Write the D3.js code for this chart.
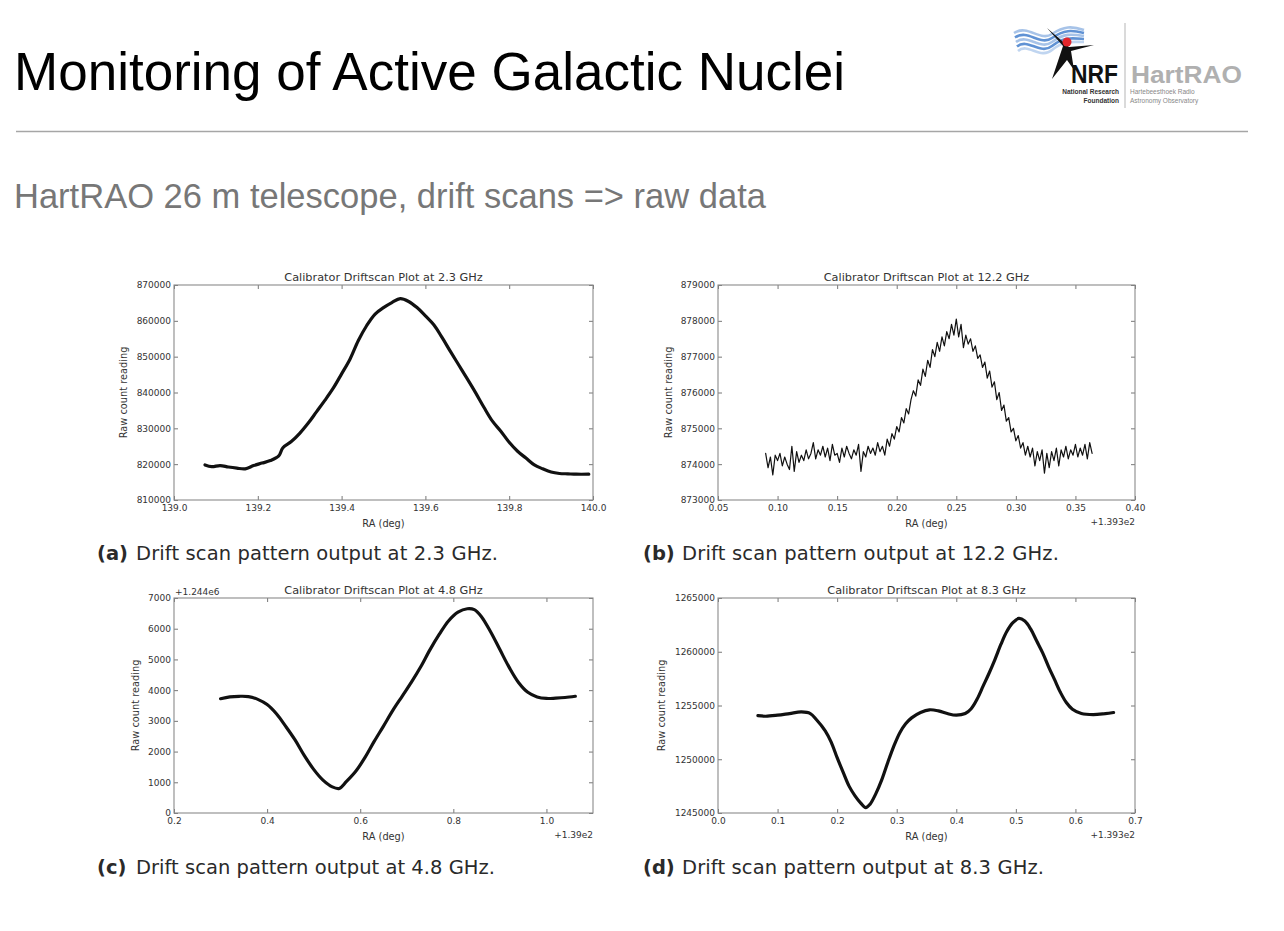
<!DOCTYPE html>
<html><head><meta charset="utf-8">
<script src="https://cdn.jsdelivr.net/npm/d3@7"></script>
<style>body{margin:0;background:#fff}svg{display:block}</style>
</head><body>
<svg id="c" width="1284" height="931"></svg>
<script>
// ---------- DATA ----------
const scan23 = [[139.074,819800],[139.09,819300],[139.11,819600],[139.13,819200],[139.15,818900],[139.17,818700],[139.19,819600],[139.21,820300],[139.23,821000],[139.25,822300],[139.26,824600],[139.28,826300],[139.30,828600],[139.32,831400],[139.34,834600],[139.36,837800],[139.38,841200],[139.40,845200],[139.42,849300],[139.44,854500],[139.46,858700],[139.48,861900],[139.50,863700],[139.52,865100],[139.54,866200],[139.56,865400],[139.58,863700],[139.60,861400],[139.62,858900],[139.64,855300],[139.66,851400],[139.68,847600],[139.70,843800],[139.72,839900],[139.74,835800],[139.76,832000],[139.78,829200],[139.80,826100],[139.82,823600],[139.84,821700],[139.86,819800],[139.88,818700],[139.90,817800],[139.92,817400],[139.94,817300],[139.96,817200],[139.99,817200]];
const scan122 = [[0.090,874300],[0.092,873900],[0.094,874200],[0.096,873700],[0.098,874250],[0.100,874100],[0.102,874300],[0.104,873950],[0.106,874200],[0.108,874000],[0.110,873850],[0.112,874500],[0.114,873800],[0.116,874350],[0.118,874050],[0.120,874250],[0.122,874100],[0.124,874400],[0.126,874150],[0.128,874300],[0.130,874600],[0.132,874150],[0.134,874400],[0.136,874250],[0.138,874500],[0.140,874200],[0.142,874450],[0.144,874100],[0.146,874550],[0.148,874250],[0.150,874300],[0.152,874050],[0.154,874450],[0.156,874200],[0.158,874500],[0.160,874300],[0.162,874150],[0.164,874400],[0.166,874250],[0.168,874550],[0.170,873800],[0.172,874350],[0.174,874200],[0.176,874500],[0.178,874300],[0.180,874450],[0.182,874250],[0.184,874600],[0.186,874350],[0.188,874500],[0.190,874250],[0.192,874700],[0.194,874500],[0.196,874850],[0.198,874700],[0.200,875050],[0.202,874900],[0.204,875300],[0.206,875150],[0.208,875550],[0.210,875400],[0.212,875800],[0.214,876050],[0.216,875900],[0.218,876350],[0.220,876200],[0.222,876650],[0.224,876450],[0.226,876900],[0.228,876700],[0.230,877200],[0.232,877000],[0.234,877400],[0.236,877150],[0.238,877550],[0.240,877300],[0.242,877700],[0.244,877500],[0.246,877900],[0.248,877600],[0.250,878050],[0.252,877550],[0.254,877900],[0.256,877250],[0.258,877600],[0.260,877350],[0.262,877500],[0.264,877150],[0.266,877300],[0.268,876950],[0.270,877050],[0.272,876700],[0.274,876850],[0.276,876400],[0.278,876600],[0.280,876150],[0.282,876300],[0.284,875800],[0.286,876000],[0.288,875500],[0.290,875650],[0.292,875200],[0.294,875300],[0.296,874900],[0.298,875000],[0.300,874650],[0.302,874800],[0.304,874450],[0.306,874600],[0.308,874250],[0.310,874500],[0.312,874200],[0.314,874450],[0.316,873950],[0.318,874350],[0.320,874100],[0.322,874400],[0.324,873750],[0.326,874300],[0.328,873900],[0.330,874350],[0.332,874100],[0.334,874450],[0.336,873950],[0.338,874400],[0.340,874200],[0.342,874500],[0.344,874150],[0.346,874400],[0.348,874250],[0.350,874550],[0.352,874200],[0.354,874450],[0.356,874250],[0.358,874550],[0.360,874150],[0.362,874600],[0.364,874300]];
const scan48 = [[0.300,3720],[0.32,3780],[0.34,3800],[0.36,3790],[0.38,3700],[0.40,3530],[0.42,3230],[0.44,2820],[0.46,2380],[0.48,1870],[0.50,1420],[0.52,1070],[0.54,850],[0.555,800],[0.57,1020],[0.59,1350],[0.61,1800],[0.63,2330],[0.65,2830],[0.67,3340],[0.69,3800],[0.71,4260],[0.73,4760],[0.75,5320],[0.77,5820],[0.79,6260],[0.81,6540],[0.83,6650],[0.845,6620],[0.86,6400],[0.88,5900],[0.90,5320],[0.92,4740],[0.94,4250],[0.96,3930],[0.98,3780],[1.00,3730],[1.02,3740],[1.04,3760],[1.062,3800]];
const scan83 = [[0.067,1254050],[0.08,1254000],[0.10,1254100],[0.12,1254250],[0.14,1254400],[0.155,1254250],[0.165,1253700],[0.18,1252650],[0.19,1251600],[0.20,1250150],[0.21,1248800],[0.22,1247500],[0.23,1246600],[0.24,1245900],[0.248,1245500],[0.255,1245800],[0.265,1246800],[0.275,1248100],[0.285,1249700],[0.295,1251200],[0.305,1252450],[0.315,1253300],[0.325,1253850],[0.34,1254350],[0.355,1254600],[0.37,1254500],[0.385,1254250],[0.40,1254100],[0.415,1254250],[0.425,1254700],[0.435,1255600],[0.445,1256800],[0.455,1258000],[0.465,1259300],[0.475,1260700],[0.485,1261900],[0.495,1262700],[0.505,1263100],[0.515,1262850],[0.525,1262100],[0.535,1261000],[0.545,1259900],[0.555,1258600],[0.565,1257400],[0.575,1256200],[0.585,1255250],[0.595,1254650],[0.61,1254250],[0.63,1254150],[0.65,1254250],[0.664,1254350]];

const xTicks23 = [139.0,139.2,139.4,139.6,139.8,140.0];
const yTicks23 = [810000,820000,830000,840000,850000,860000,870000];
const xTicks122 = [0.05,0.10,0.15,0.20,0.25,0.30,0.35,0.40];
const yTicks122 = [873000,874000,875000,876000,877000,878000,879000];
const xTicks48 = [0.2,0.4,0.6,0.8,1.0];
const yTicks48 = [0,1000,2000,3000,4000,5000,6000,7000];
const xTicks83 = [0.0,0.1,0.2,0.3,0.4,0.5,0.6,0.7];
const yTicks83 = [1245000,1250000,1255000,1260000,1265000];

const titles = ["Calibrator Driftscan Plot at 2.3 GHz","Calibrator Driftscan Plot at 12.2 GHz","Calibrator Driftscan Plot at 4.8 GHz","Calibrator Driftscan Plot at 8.3 GHz"];
const captionTags = ["(a)","(b)","(c)","(d)"];
const captionTexts = ["Drift scan pattern output at 2.3 GHz.","Drift scan pattern output at 12.2 GHz.","Drift scan pattern output at 4.8 GHz.","Drift scan pattern output at 8.3 GHz."];

// ---------- DRAWING ----------
const svg = d3.select("#c");
svg.append("rect").attr("width",1284).attr("height",931).attr("fill","#fff");

// Header
svg.append("text").attr("x",14).attr("y",90).text("Monitoring of Active Galactic Nuclei")
  .attr("font-family","Liberation Sans, Arial, sans-serif").attr("font-size",53).attr("fill","#000")
  .attr("textLength",831).attr("lengthAdjust","spacingAndGlyphs");
svg.append("line").attr("x1",16).attr("x2",1248).attr("y1",131.5).attr("y2",131.5)
  .attr("stroke","#a6a6a6").attr("stroke-width",1.5);
svg.append("text").attr("x",14).attr("y",208).text("HartRAO 26 m telescope, drift scans => raw data")
  .attr("font-family","Liberation Sans, Arial, sans-serif").attr("font-size",34.5).attr("fill","#777")
  .attr("textLength",752).attr("lengthAdjust","spacingAndGlyphs");

// Logo
const logo = svg.append("g");
const blues = ["#9dbde6","#4f86cf","#9dbde6","#4f86cf","#b9d0ee"];
blues.forEach((c,i)=>{
  logo.append("path").attr("d",`M${1014+i*1},${33+i*4.5} C1028,${24+i*4.5} 1040,${42+i*4.5} 1052,${34+i*4} S1072,${26+i*4} 1084,${30+i*3}`)
    .attr("fill","none").attr("stroke",c).attr("stroke-width",2.6).attr("opacity",0.9);
});
logo.append("path").attr("d","M1047,28 L1063,46 L1052,79 L1067,60 L1074,70 L1071,51 L1094,45 L1069,47 Z").attr("fill","#111");
logo.append("circle").attr("cx",1067).attr("cy",42).attr("r",4.5).attr("fill","#e3262b");
logo.append("text").attr("x",1071).attr("y",83).text("NRF").attr("font-family","Liberation Sans, Arial, sans-serif")
  .attr("font-weight","bold").attr("font-size",25).attr("fill","#111").attr("textLength",47).attr("lengthAdjust","spacingAndGlyphs");
logo.append("line").attr("x1",1125).attr("x2",1125).attr("y1",23).attr("y2",108).attr("stroke","#b5b5b5").attr("stroke-width",1);
logo.append("text").attr("x",1131).attr("y",83).text("HartRAO").attr("font-family","Liberation Sans, Arial, sans-serif")
  .attr("font-weight","bold").attr("font-size",24).attr("fill","#b0b0b0").attr("textLength",111).attr("lengthAdjust","spacingAndGlyphs");
[["National Research",94],["Foundation",103]].forEach(([t,y])=>logo.append("text").attr("x",1119).attr("y",y).attr("text-anchor","end")
  .text(t).attr("font-family","Liberation Sans, Arial, sans-serif").attr("font-weight","bold").attr("font-size",6.5).attr("fill","#333"));
[["Hartebeesthoek Radio",94],["Astronomy Observatory",103]].forEach(([t,y])=>logo.append("text").attr("x",1130).attr("y",y)
  .text(t).attr("font-family","Liberation Sans, Arial, sans-serif").attr("font-size",6.5).attr("fill","#888"));

// Panels
const panels = [
  {left:174, top:285, w:419, h:215, data:scan23, xDom:[139.0,140.0], yDom:[810000,870000], xTicks:xTicks23, yTicks:yTicks23,
   xFmt:d3.format(".1f"), yFmt:d3.format("d"), title:titles[0], ylx:-47, sw:3.2, smooth:true, offX:null, offY:null,
   capY:560, capX:97, capLen:362},
  {left:718, top:285, w:417, h:215, data:scan122, xDom:[0.05,0.40], yDom:[873000,879000], xTicks:xTicks122, yTicks:yTicks122,
   xFmt:d3.format(".2f"), yFmt:d3.format("d"), title:titles[1], ylx:-46, sw:1.2, smooth:false, offX:"+1.393e2", offY:null,
   capY:560, capX:643, capLen:377},
  {left:174, top:598, w:419, h:215, data:scan48, xDom:[0.2,1.1], yDom:[0,7000], xTicks:xTicks48, yTicks:yTicks48,
   xFmt:d3.format(".1f"), yFmt:d3.format("d"), title:titles[2], ylx:-35, sw:3.2, smooth:true, offX:"+1.39e2", offY:"+1.244e6",
   capY:874, capX:97, capLen:359},
  {left:718, top:598, w:417, h:215, data:scan83, xDom:[0.0,0.7], yDom:[1245000,1265000], xTicks:xTicks83, yTicks:yTicks83,
   xFmt:d3.format(".1f"), yFmt:d3.format("d"), title:titles[3], ylx:-53, sw:3.2, smooth:true, offX:"+1.393e2", offY:null,
   capY:874, capX:643, capLen:362}
];

const tickFont = "DejaVu Sans, Verdana, sans-serif";
panels.forEach((p,i)=>{
  const g = svg.append("g").attr("transform",`translate(${p.left},${p.top})`);
  const x = d3.scaleLinear().domain(p.xDom).range([0,p.w]);
  const y = d3.scaleLinear().domain(p.yDom).range([p.h,0]);

  const line = d3.line().x(d=>x(d[0])).y(d=>y(d[1]));
  if (p.smooth) line.curve(d3.curveCatmullRom.alpha(0.5));
  g.append("path").datum(p.data).attr("d",line)
    .attr("fill","none").attr("stroke","#111").attr("stroke-width",p.sw)
    .attr("stroke-linejoin","round").attr("stroke-linecap","round");

  const style = sel => {
    sel.select(".domain").remove();
    sel.selectAll(".tick line").attr("stroke","#777").attr("stroke-width",1);
    sel.selectAll("text").attr("font-family",tickFont).attr("font-size",9).attr("fill","#333");
  };
  g.append("g").attr("transform",`translate(0,${p.h})`)
    .call(d3.axisBottom(x).tickValues(p.xTicks).tickFormat(p.xFmt).tickSizeInner(-4).tickSizeOuter(0).tickPadding(5)).call(style);
  g.append("g")
    .call(d3.axisTop(x).tickValues(p.xTicks).tickFormat("").tickSizeInner(-4).tickSizeOuter(0)).call(style);
  g.append("g")
    .call(d3.axisLeft(y).tickValues(p.yTicks).tickFormat(p.yFmt).tickSizeInner(-4).tickSizeOuter(0).tickPadding(3)).call(style);
  g.append("g").attr("transform",`translate(${p.w},0)`)
    .call(d3.axisRight(y).tickValues(p.yTicks).tickFormat("").tickSizeInner(-4).tickSizeOuter(0)).call(style);

  g.append("rect").attr("x",0).attr("y",0).attr("width",p.w).attr("height",p.h)
    .attr("fill","none").attr("stroke","#8a8a8a").attr("stroke-width",1.1);

  g.append("text").attr("x",p.w/2).attr("y",-4).attr("text-anchor","middle").text(p.title)
    .attr("font-family",tickFont).attr("font-size",11.3).attr("fill","#333");
  g.append("text").attr("x",p.w/2).attr("y",p.h+27).attr("text-anchor","middle").text("RA (deg)")
    .attr("font-family",tickFont).attr("font-size",9.8).attr("fill","#333");
  g.append("text").attr("transform",`translate(${p.ylx},${p.h/2}) rotate(-90)`).attr("text-anchor","middle")
    .text("Raw count reading").attr("font-family",tickFont).attr("font-size",9.8).attr("fill","#333");
  if (p.offX) g.append("text").attr("x",p.w).attr("y",p.h+25).attr("text-anchor","end").text(p.offX)
    .attr("font-family",tickFont).attr("font-size",9).attr("fill","#333");
  if (p.offY) g.append("text").attr("x",1).attr("y",-3).text(p.offY)
    .attr("font-family",tickFont).attr("font-size",9).attr("fill","#333");

  svg.append("text").attr("x",p.capX).attr("y",p.capY).text(captionTags[i])
    .attr("font-family",tickFont).attr("font-weight","bold").attr("font-size",19.5).attr("fill","#2a2a2a");
  svg.append("text").attr("x",p.capX+39).attr("y",p.capY).text(captionTexts[i])
    .attr("font-family",tickFont).attr("font-size",19.5).attr("fill","#2a2a2a")
    .attr("textLength",p.capLen).attr("lengthAdjust","spacing");
});
</script>
</body></html>
